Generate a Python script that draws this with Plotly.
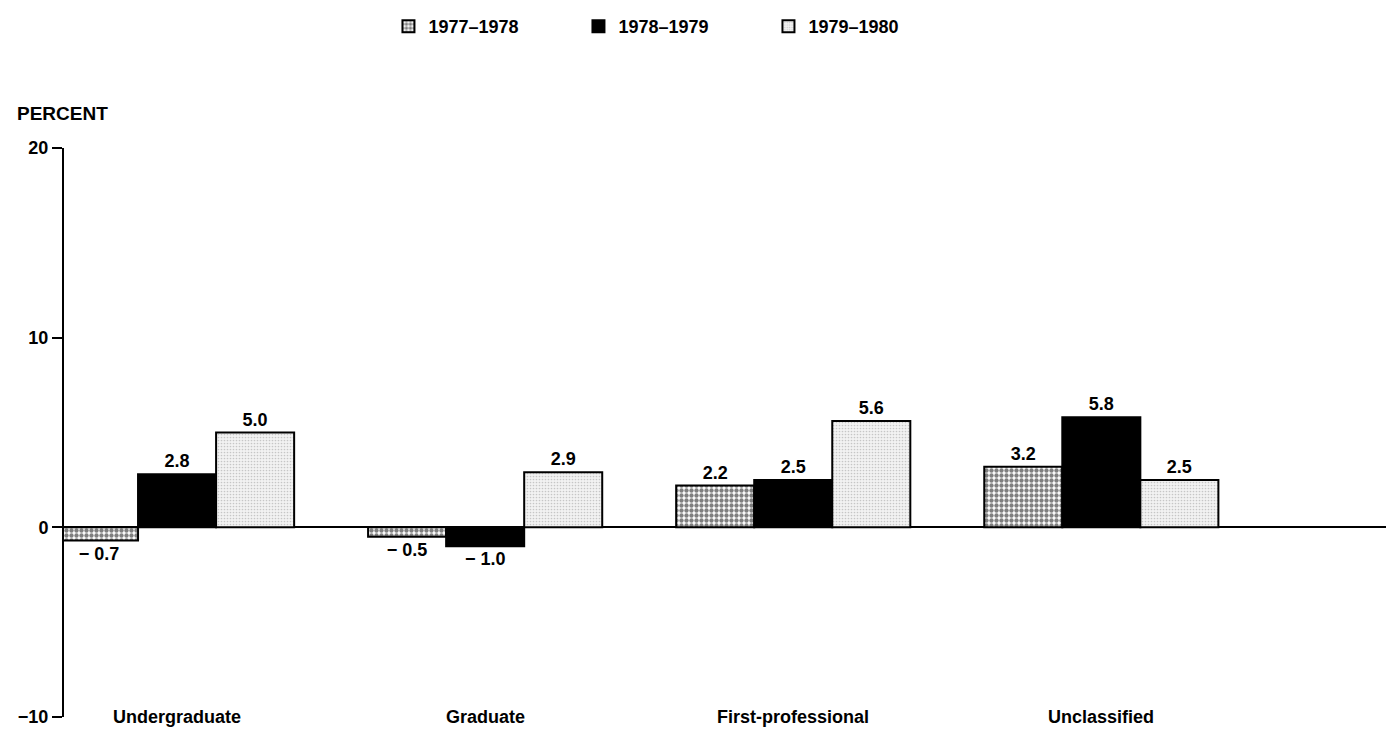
import plotly.graph_objects as go

# Percent change in enrollment, by level
LEVELS = ["Undergraduate", "Graduate", "First-professional", "Unclassified"]
YEARS = ["1977\u20131978", "1978\u20131979", "1979\u20131980"]
CHG_77_78 = [-0.7, -0.5, 2.2, 3.2]
CHG_78_79 = [2.8, -1.0, 2.5, 5.8]
CHG_79_80 = [5.0, 2.9, 5.6, 2.5]
Y_TICKS = [-10, 0, 10, 20]

FONT = "Liberation Sans, Arial, sans-serif"

STYLES = [
    dict(color="white", pattern=dict(shape=".", fgcolor="black", bgcolor="white",
                                     size=5, solidity=0.6)),
    dict(color="black"),
    dict(color="white", pattern=dict(shape=".", fgcolor="#9a9a9a", bgcolor="#f2f2f2",
                                     size=3, solidity=0.25)),
]


def fmt(v):
    s = f"{v:.1f}"
    return s.replace("-", "\u2212 ") if v < 0 else s


fig = go.Figure()
for name, vals, style in zip(YEARS, [CHG_77_78, CHG_78_79, CHG_79_80], STYLES):
    fig.add_bar(
        x=LEVELS, y=vals, name=name,
        marker=dict(line=dict(color="black", width=2), **style),
        text=[fmt(v) for v in vals], textposition="outside",
        textfont=dict(family=FONT, size=18, color="black", weight="bold"),
        constraintext="none", cliponaxis=False,
    )

# category labels sit at the bottom of the axis
for lvl in LEVELS:
    fig.add_annotation(x=lvl, y=-10, text=f"<b>{lvl}</b>", showarrow=False,
                       yanchor="middle", font=dict(family=FONT, size=18, color="black"))

fig.add_annotation(xref="paper", yref="paper", x=-0.037, y=1.06, xanchor="left",
                   yanchor="middle", text="<b>PERCENT</b>", showarrow=False,
                   font=dict(family=FONT, size=19, color="black"))

# page body adds an 8px offset, so size/margins are trimmed to match
fig.update_layout(
    width=1386, height=723,
    margin=dict(l=56, r=0, t=140, b=14),
    plot_bgcolor="white", paper_bgcolor="white",
    font=dict(family=FONT, size=16, color="black"),
    barmode="group", bargap=0.24, bargroupgap=0,
    showlegend=True,
    legend=dict(orientation="h", xref="container", yref="container",
                x=0.2745, y=1.0, xanchor="left", yanchor="top",
                entrywidth=145, entrywidthmode="pixels",
                tracegroupgap=0, borderwidth=0,
                font=dict(family=FONT, size=18, color="black", weight="bold")),
    xaxis=dict(range=[-0.367, 3.95], showticklabels=False, showgrid=False,
               showline=False, zeroline=False, ticks=""),
    yaxis=dict(range=[-10, 20], tickvals=Y_TICKS, showgrid=False,
               showline=True, linecolor="black", linewidth=2,
               ticks="outside", ticklen=10, tickwidth=2, tickcolor="black",
               zeroline=True, zerolinecolor="black", zerolinewidth=2,
               tickfont=dict(family=FONT, size=18, color="black", weight="bold")),
)

fig.write_html("out.html")
